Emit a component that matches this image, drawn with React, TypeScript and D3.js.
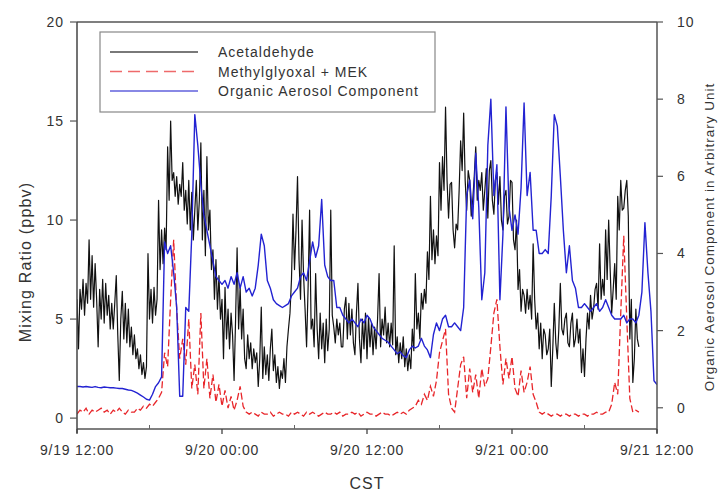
import React from "react";
import * as d3 from "d3";

// ---- data ----
const xTickLabels = ["9/19 12:00", "9/20 00:00", "9/20 12:00", "9/21 00:00", "9/21 12:00"];
const xTickHours = [0, 12, 24, 36, 48];
const xMinorHours = [6, 18, 30, 42];
const leftTicks = [0, 5, 10, 15, 20];
const rightTicks = [0, 2, 4, 6, 8, 10];
const acetStepHours = 0.125; // acetaldehyde samples every 7.5 min from 9/19 12:00
const sampleStepHours = 0.25; // other series every 15 min from 9/19 12:00

// Acetaldehyde (ppbv, left axis), 8 samples per hour
const acetaldehyde = [
  6.0, 3.5, 6.5, 5.5, 7.0, 5.2, 6.8, 5.8,
  9.0, 6.0, 8.2, 5.6, 7.8, 6.0, 3.6, 6.5,
  5.0, 7.0, 4.8, 6.8, 5.2, 6.2, 4.5, 5.8,
  4.5, 5.8, 7.2, 4.2, 1.9, 5.0, 6.4, 4.0,
  5.8, 3.8, 5.5, 3.6, 4.6, 3.2, 4.2, 3.0,
  3.5, 2.5, 3.2, 2.2, 2.8, 2.0, 2.6, 8.3,
  5.0, 6.5, 4.8, 6.6, 5.2, 6.0, 11.0, 7.5,
  9.5, 7.8, 9.6, 8.5, 13.7, 11.0, 15.0, 12.0,
  12.4, 11.2, 12.2, 10.8, 11.8, 11.2, 12.9, 10.5,
  11.5, 9.8, 12.0, 9.5, 11.4, 9.0, 10.5, 12.0,
  9.5, 11.0, 13.9, 9.0, 11.5, 8.2, 13.2, 9.5,
  10.5, 7.5, 8.5, 6.0, 8.0, 5.5, 7.2, 5.0,
  6.0, 3.0, 6.6, 4.0, 5.5, 3.5, 5.3, 4.2,
  1.9, 5.0, 8.6, 4.5, 6.6, 4.0, 5.5, 3.0,
  2.5, 4.2, 3.0, 3.8, 2.5, 3.5, 2.8, 3.3,
  1.6, 3.0, 5.6, 2.0, 3.6, 2.2, 3.2, 1.9,
  3.5, 4.5, 2.4, 3.2, 1.8, 2.6, 1.5, 2.4,
  2.0, 3.0, 1.8, 3.6, 4.5, 5.3, 7.0, 10.3,
  7.5, 9.5, 12.2, 8.0, 6.0, 10.0, 7.2, 5.5,
  3.6, 6.6, 10.5, 4.5, 5.0, 3.6, 7.3, 4.5,
  3.0, 5.3, 3.5, 4.8, 2.8, 5.0, 3.4, 4.5,
  10.5, 5.2, 4.6, 3.8, 5.0, 4.2, 4.8, 3.6,
  3.6, 5.5, 6.1, 4.0, 5.8, 4.2, 5.5, 3.8,
  3.2, 5.3, 6.8, 4.0, 2.8, 5.0, 3.5, 5.3,
  3.0, 5.1, 3.6, 4.8, 3.2, 4.6, 3.5, 5.0,
  7.3, 3.6, 5.0, 4.2, 5.6, 3.8, 4.8, 3.6,
  4.8, 3.7, 8.7, 3.2, 4.1, 2.8, 3.8, 3.0,
  4.1, 2.6, 3.5, 2.4, 3.2, 2.5, 4.5, 3.4,
  7.3, 4.5, 5.3, 4.0, 6.3, 5.5, 6.5, 5.8,
  8.4, 7.0, 11.2, 8.0, 9.5, 7.8, 9.2, 8.2,
  12.9, 10.5, 13.2, 11.5, 15.7, 12.0, 10.1, 11.8,
  11.9, 9.5, 8.6, 9.8, 9.5, 11.5, 14.0, 12.5,
  15.4, 12.0, 10.5, 12.5, 12.0, 10.2, 11.0, 12.2,
  13.7, 11.0, 12.0, 11.5, 12.4, 10.5, 11.5, 12.6,
  10.1, 12.5, 13.0, 11.0, 10.3, 12.0, 12.4, 10.8,
  12.2, 10.0, 9.5, 11.2, 11.5, 9.8, 10.2, 12.0,
  11.9, 9.0, 8.5, 10.0, 6.5, 7.5, 5.4, 6.5,
  6.2, 5.3, 6.5, 5.5, 6.2, 5.0, 8.8, 6.0,
  4.5, 5.3, 3.5, 4.8, 3.0, 4.5, 4.2, 3.2,
  3.5, 4.5, 1.6, 3.5, 5.8, 3.8, 3.0, 4.5,
  6.8, 4.5, 4.2, 5.0, 5.3, 3.8, 3.6, 4.8,
  5.3, 3.6, 4.0, 5.0, 3.8, 4.5, 2.3, 3.5,
  2.1, 4.0, 5.3, 4.5, 6.2, 5.0, 5.5, 6.5,
  6.8, 5.5, 8.8, 6.0, 7.0, 6.2, 9.5, 7.0,
  10.0, 7.5, 5.3, 6.5, 7.8, 6.0, 11.2, 9.5,
  12.0, 10.5, 10.6, 11.5, 12.0, 10.2, 4.0, 6.0,
  1.8, 3.0, 5.5, 4.0, 3.6,
];

// Methylglyoxal + MEK (ppbv, left axis)
const methylglyoxalMEK = [
  0.2, 0.4, 0.3, 0.5,
  0.2, 0.4, 0.3, 0.4,
  0.5, 0.3, 0.4, 0.2,
  0.4, 0.3, 0.5, 0.3,
  0.2, 0.4, 0.3, 0.3,
  0.5, 0.4, 0.6, 0.5,
  0.7, 0.6, 0.8, 1.0,
  1.3, 3.3, 2.6, 6.0,
  9.0, 5.5, 3.0, 4.0,
  2.7, 5.0, 1.5, 2.7,
  1.2, 5.3, 1.5, 3.0,
  1.0, 2.2, 0.8, 1.7,
  0.6, 1.4, 0.5, 1.1,
  0.4, 0.9, 1.6, 0.6,
  0.3, 0.2, 0.3, 0.2,
  0.1, 0.3, 0.2, 0.2,
  0.3, 0.1, 0.2, 0.3,
  0.2, 0.2, 0.1, 0.3,
  0.2, 0.3, 0.2, 0.1,
  0.3, 0.2, 0.3, 0.2,
  0.1, 0.2, 0.3, 0.2,
  0.2, 0.3, 0.2, 0.3,
  0.1, 0.2, 0.2, 0.3,
  0.2, 0.3, 0.1, 0.2,
  0.3, 0.2, 0.2, 0.1,
  0.2, 0.3, 0.2, 0.2,
  0.1, 0.2, 0.3, 0.2,
  0.3, 0.2, 0.4, 0.5,
  0.6, 0.9, 0.7, 1.2,
  0.9, 1.6, 1.1, 1.9,
  3.3, 3.9, 4.5, 1.2,
  0.5, 0.3, 1.5, 2.7,
  3.1, 1.0, 2.5, 1.3,
  2.2, 1.0, 2.5, 1.6,
  2.0, 3.6, 5.3, 6.0,
  3.6, 1.7, 3.0, 2.0,
  3.1, 1.5, 1.1, 2.4,
  1.3, 1.8, 2.6, 1.2,
  0.8, 0.3, 0.2, 0.3,
  0.2, 0.1, 0.2, 0.2,
  0.1, 0.2, 0.2, 0.1,
  0.2, 0.2, 0.1, 0.2,
  0.2, 0.1, 0.2, 0.2,
  0.3, 0.2, 0.2, 0.3,
  0.3, 0.7, 1.8, 1.2,
  5.3, 9.2, 5.0, 1.0,
  0.3, 0.4, 0.3,
];

// Organic Aerosol Component (arbitrary unit, right axis)
const organicAerosol = [
  0.55, 0.55, 0.54, 0.55,
  0.54, 0.53, 0.55, 0.53,
  0.52, 0.54, 0.53, 0.52,
  0.52, 0.51, 0.5, 0.5,
  0.48, 0.46, 0.45, 0.42,
  0.38, 0.33, 0.28, 0.22,
  0.2, 0.35, 0.55, 0.65,
  0.8, 4.3, 4.0, 4.2,
  3.5, 2.6, 0.3, 0.3,
  2.6, 2.5, 4.5, 7.6,
  6.8, 5.8, 5.0, 4.6,
  4.2, 3.8, 3.4, 3.3,
  3.2, 3.3, 3.1, 3.4,
  3.2, 3.5, 3.1, 3.4,
  3.0, 3.1, 2.9, 3.1,
  3.7, 4.5, 4.2, 3.3,
  3.1, 2.8, 2.7, 2.65,
  2.6, 2.65, 2.7, 2.9,
  3.0, 3.1, 3.4, 3.5,
  3.3, 3.8, 4.3, 3.9,
  4.2, 5.4, 3.7, 3.4,
  3.3, 3.3, 2.6, 2.6,
  2.4, 2.3, 2.2, 2.3,
  2.2, 2.1, 2.3, 2.2,
  2.4, 2.3, 2.1, 2.0,
  1.9, 1.8, 1.75, 1.7,
  1.6, 1.5, 1.4, 1.45,
  1.35, 1.3, 1.5, 1.6,
  1.55, 1.6, 1.8, 1.6,
  1.5, 1.3, 1.9, 2.2,
  2.0, 2.3, 2.4, 2.1,
  2.1, 2.2, 2.1, 2.0,
  2.6, 5.5, 5.9, 4.9,
  6.6, 5.2, 2.8, 3.5,
  6.8, 8.0, 5.5, 6.3,
  2.8, 4.5, 7.8, 5.2,
  4.6, 5.0, 4.5, 5.7,
  7.9, 5.5, 6.1, 4.6,
  4.6, 4.0, 4.0, 4.1,
  4.0, 5.5, 7.6, 7.3,
  6.0, 4.6, 3.5, 4.2,
  3.3, 3.1, 2.6, 2.6,
  2.7, 2.6, 2.5, 2.6,
  2.7, 2.5, 2.6, 2.8,
  2.6, 2.4, 2.3, 2.3,
  2.3, 2.4, 2.2, 2.3,
  2.3, 2.2, 2.4, 3.0,
  4.8, 3.5, 2.5, 0.7,
  0.6,
];

const legendItems = [
  { label: "Acetaldehyde", color: "#111111", dash: "" },
  { label: "Methylglyoxal + MEK", color: "#e8383a", dash: "12,6" },
  { label: "Organic Aerosol Component", color: "#2b2bd0", dash: "" },
];

const W = 721;
const H = 491;
const M = { left: 77, right: 657, top: 22, bottom: 429 };
const FONT = "'Liberation Sans', Arial, Helvetica, sans-serif";
const TXT = "#333";

export default function App() {
  const x = d3.scaleLinear().domain([0, 48]).range([M.left, M.right]);
  const yL = d3.scaleLinear().domain([-0.55, 20]).range([M.bottom, M.top]);
  const yR = d3.scaleLinear().domain([-0.55, 10]).range([M.bottom, M.top]);

  const lineAcet = d3
    .line<number>()
    .x((_, i) => x(i * acetStepHours))
    .y((d) => yL(d));
  const lineL = d3
    .line<number>()
    .x((_, i) => x(i * sampleStepHours))
    .y((d) => yL(d));
  const lineR = d3
    .line<number>()
    .x((_, i) => x(i * sampleStepHours))
    .y((d) => yR(d));

  return (
    <svg
      width={W}
      height={H}
      style={{ position: "absolute", left: 0, top: 0, background: "#fff" }}
      fontFamily={FONT}
    >
      <rect x={0} y={0} width={W} height={H} fill="#fff" />
      <defs>
        <clipPath id="plot">
          <rect x={M.left} y={M.top} width={M.right - M.left} height={M.bottom - M.top} />
        </clipPath>
      </defs>

      <g clipPath="url(#plot)">
        <path d={lineAcet(acetaldehyde) || ""} fill="none" stroke="#111" strokeWidth={1.2} strokeLinejoin="round" />
        <path d={lineL(methylglyoxalMEK) || ""} fill="none" stroke="#e8262a" strokeWidth={1.3} strokeDasharray="7,3" />
        <path d={lineR(organicAerosol) || ""} fill="none" stroke="#2323d2" strokeWidth={1.4} strokeLinejoin="round" />
      </g>

      {/* frame */}
      <line x1={M.left} x2={M.right} y1={M.top} y2={M.top} stroke="#555" strokeWidth={1.5} />
      <line x1={M.left} x2={M.right} y1={M.bottom} y2={M.bottom} stroke="#555" strokeWidth={1.5} />
      <line x1={M.left} x2={M.left} y1={M.top} y2={M.bottom + 4} stroke="#444" strokeWidth={1.5} />
      <line x1={M.right} x2={M.right} y1={M.top} y2={M.bottom + 4} stroke="#555" strokeWidth={1.5} />

      {/* left axis */}
      {leftTicks.map((t) => (
        <g key={"l" + t}>
          <line x1={M.left - 7} x2={M.left} y1={yL(t)} y2={yL(t)} stroke="#555" strokeWidth={1.2} />
          <text x={64} y={yL(t) + 5} textAnchor="end" fontSize={14} letterSpacing={1} fill={TXT}>
            {t}
          </text>
        </g>
      ))}

      {/* right axis */}
      {rightTicks.map((t) => (
        <g key={"r" + t}>
          <line x1={M.right} x2={M.right + 6} y1={yR(t)} y2={yR(t)} stroke="#555" strokeWidth={1.2} />
          <text x={677} y={yR(t) + 5} textAnchor="start" fontSize={14} letterSpacing={1} fill={TXT}>
            {t}
          </text>
        </g>
      ))}

      {/* bottom axis */}
      {xTickHours.map((h, i) => (
        <g key={"x" + h}>
          <line x1={x(h)} x2={x(h)} y1={M.bottom} y2={M.bottom + 5} stroke="#444" strokeWidth={1.3} />
          <text x={x(h)} y={455} textAnchor="middle" fontSize={14} letterSpacing={0.8} fill={TXT}>
            {xTickLabels[i]}
          </text>
        </g>
      ))}
      {xMinorHours.map((h) => (
        <line key={"m" + h} x1={x(h)} x2={x(h)} y1={M.bottom - 4} y2={M.bottom} stroke="#666" strokeWidth={1} />
      ))}

      {/* axis titles */}
      <text x={367} y={489} textAnchor="middle" fontSize={16} letterSpacing={1} fill={TXT}>
        CST
      </text>
      <text
        transform={`translate(31,262) rotate(-90)`}
        textAnchor="middle"
        fontSize={16}
        letterSpacing={1.2}
        fill={TXT}
      >
        Mixing Ratio (ppbv)
      </text>
      <text
        transform={`translate(714,237) rotate(-90)`}
        textAnchor="middle"
        fontSize={13.5}
        letterSpacing={1}
        fill={TXT}
      >
        Organic Aerosol Component in Arbitrary Unit
      </text>

      {/* legend */}
      <rect x={100} y={32} width={335} height={80} fill="#fff" stroke="#888" strokeWidth={1.2} />
      {legendItems.map((it, i) => (
        <g key={it.label}>
          <line
            x1={110}
            x2={198}
            y1={52 + i * 19.5}
            y2={52 + i * 19.5}
            stroke={it.color}
            strokeOpacity={0.75}
            strokeWidth={1.6}
            strokeDasharray={it.dash}
          />
          <text x={218} y={57 + i * 19.5} fontSize={14} letterSpacing={1} fill={TXT}>
            {it.label}
          </text>
        </g>
      ))}
    </svg>
  );
}
